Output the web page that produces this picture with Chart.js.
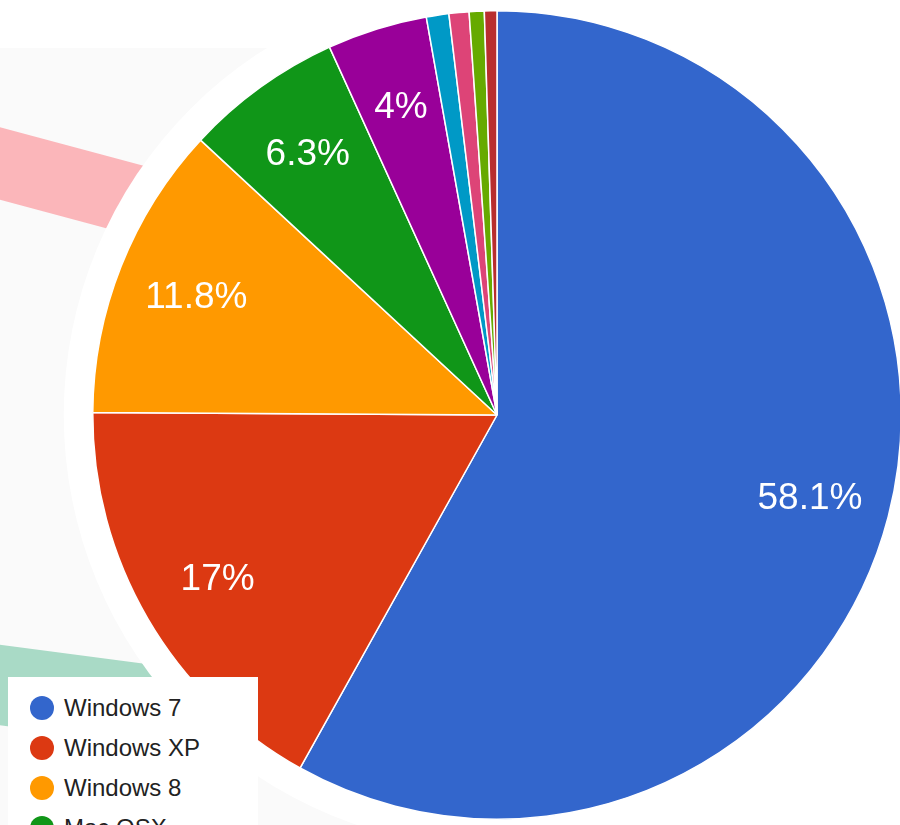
<!DOCTYPE html>
<html>
<head>
<meta charset="utf-8">
<script src="https://cdn.jsdelivr.net/npm/chart.js@4"></script>
<style>
  html, body { margin: 0; padding: 0; }
  body {
    width: 900px; height: 825px; overflow: hidden; position: relative;
    background: #ffffff; font-family: "Liberation Sans", Arial, sans-serif;
  }
  .panel { position: absolute; left: 0; top: 48px; width: 500px; height: 800px; background: #fafafa; }
  .band { position: absolute; transform-origin: 0 0; }
  .band.pink { left: -20px; top: 122px; width: 260px; height: 70px; background: #fbb6ba; transform: rotate(15deg); }
  .band.teal { left: -20px; top: 642px; width: 260px; height: 80px; background: #a9dac6; transform: rotate(7.5deg); }
  #wrap { position: absolute; left: 62px; top: -20px; width: 870px; height: 870px; }
  #legend {
    position: absolute; left: 8px; top: 677px; width: 250px; height: 200px;
    background: #fff; padding-top: 11px; box-sizing: border-box;
  }
  .item { display: flex; align-items: center; height: 40px; font-size: 24px; color: #222; }
  .dot { width: 24px; height: 24px; border-radius: 50%; margin-left: 22px; margin-right: 10px; }
</style>
</head>
<body>
<div class="panel"></div>
<div class="band pink"></div>
<div class="band teal"></div>
<div id="wrap"><canvas id="pie" width="870" height="870"></canvas></div>
<div id="legend"></div>

<script>
const labels = ['Windows 7', 'Windows XP', 'Windows 8', 'Mac OSX', 'Windows Vista', 'Linux', 'iOS', 'Android', 'Other'];
const shares = [58.1, 17, 11.8, 6.3, 4, 0.9, 0.8, 0.6, 0.5];
const colors = ['#3366cc', '#dc3912', '#ff9900', '#109618', '#990099', '#0099c6', '#dd4477', '#66aa00', '#b82e2e'];

// white ring behind the pie
const halo = {
    id: 'halo',
    beforeDatasetsDraw(chart) {
        const arc = chart.getDatasetMeta(0).data[0];
        if (!arc) return;
        const ctx = chart.ctx;
        ctx.save();
        ctx.fillStyle = '#ffffff';
        ctx.beginPath();
        ctx.arc(arc.x, arc.y, arc.outerRadius + 29, 0, Math.PI * 2);
        ctx.fill();
        ctx.restore();
    }
};

// percentage labels inside the bigger slices
const sliceLabels = {
    id: 'sliceLabels',
    afterDatasetsDraw(chart) {
        const ctx = chart.ctx;
        ctx.save();
        ctx.fillStyle = '#ffffff';
        ctx.font = '37px "Liberation Sans", Arial, sans-serif';
        ctx.textAlign = 'center';
        ctx.textBaseline = 'middle';
        chart.getDatasetMeta(0).data.forEach((arc, i) => {
            if (shares[i] < 4) return;
            const mid = (arc.startAngle + arc.endAngle) / 2;
            const r = arc.outerRadius * 0.8;
            ctx.fillText(shares[i] + '%', arc.x + Math.cos(mid) * r, arc.y + Math.sin(mid) * r + 2);
        });
        ctx.restore();
    }
};

new Chart(document.getElementById('pie'), {
    type: 'pie',
    data: {
        labels,
        datasets: [{
            data: shares,
            backgroundColor: colors,
            borderColor: '#ffffff',
            borderWidth: 1.5
        }]
    },
    options: {
        responsive: false,
        animation: false,
        layout: { padding: 30 },
        plugins: { legend: { display: false }, tooltip: { enabled: false } }
    },
    plugins: [halo, sliceLabels]
});

const legend = document.getElementById('legend');
labels.forEach((name, i) => {
    const row = document.createElement('div');
    row.className = 'item';
    row.innerHTML = `<span class="dot" style="background:${colors[i]}"></span>${name}`;
    legend.appendChild(row);
});
</script>
</body>
</html>
